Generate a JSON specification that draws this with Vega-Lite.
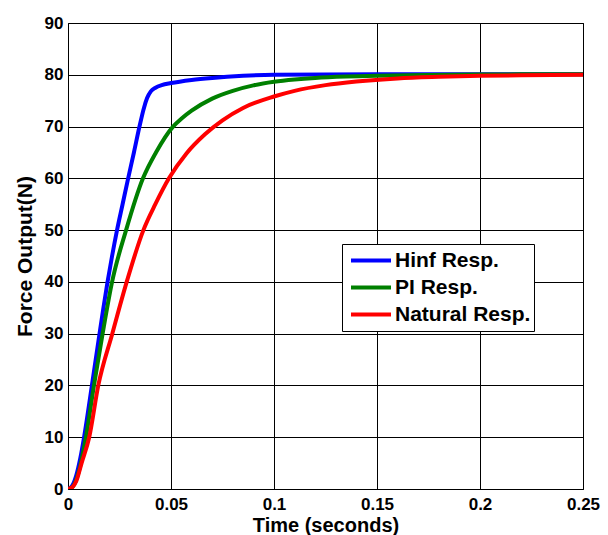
{
  "$schema": "https://vega.github.io/schema/vega-lite/v6.json",
  "width": 515,
  "height": 466,
  "autosize": {"type": "none"},
  "padding": {"left": 68, "top": 23, "right": 25, "bottom": 46},
  "background": "white",
  "config": {
    "view": {"stroke": "black", "strokeWidth": 1},
    "font": "Liberation Sans",
    "axis": {
      "gridColor": "black",
      "gridOpacity": 1,
      "gridWidth": 1,
      "domain": false,
      "ticks": false,
      "labelFont": "Liberation Sans",
      "labelFontWeight": "bold",
      "labelFontSize": 17,
      "labelColor": "black",
      "titleFont": "Liberation Sans",
      "titleFontWeight": "bold",
      "titleFontSize": 21,
      "titleColor": "black"
    }
  },
  "data": {
    "values": [
      {"t": 0, "f": 0, "s": "Hinf Resp."},
      {"t": 0.002, "f": 0.6, "s": "Hinf Resp."},
      {"t": 0.004, "f": 2.6, "s": "Hinf Resp."},
      {"t": 0.006, "f": 6, "s": "Hinf Resp."},
      {"t": 0.0078, "f": 10, "s": "Hinf Resp."},
      {"t": 0.0116, "f": 20, "s": "Hinf Resp."},
      {"t": 0.0153, "f": 30, "s": "Hinf Resp."},
      {"t": 0.0172, "f": 35, "s": "Hinf Resp."},
      {"t": 0.0192, "f": 40, "s": "Hinf Resp."},
      {"t": 0.0214, "f": 45, "s": "Hinf Resp."},
      {"t": 0.0238, "f": 50, "s": "Hinf Resp."},
      {"t": 0.0265, "f": 55, "s": "Hinf Resp."},
      {"t": 0.0292, "f": 60, "s": "Hinf Resp."},
      {"t": 0.032, "f": 65, "s": "Hinf Resp."},
      {"t": 0.0347, "f": 70, "s": "Hinf Resp."},
      {"t": 0.0368, "f": 73.5, "s": "Hinf Resp."},
      {"t": 0.0384, "f": 75.5, "s": "Hinf Resp."},
      {"t": 0.0402, "f": 76.8, "s": "Hinf Resp."},
      {"t": 0.0425, "f": 77.5, "s": "Hinf Resp."},
      {"t": 0.0455, "f": 78, "s": "Hinf Resp."},
      {"t": 0.05, "f": 78.4, "s": "Hinf Resp."},
      {"t": 0.06, "f": 79, "s": "Hinf Resp."},
      {"t": 0.07, "f": 79.4, "s": "Hinf Resp."},
      {"t": 0.085, "f": 79.8, "s": "Hinf Resp."},
      {"t": 0.1, "f": 80, "s": "Hinf Resp."},
      {"t": 0.15, "f": 80.1, "s": "Hinf Resp."},
      {"t": 0.2, "f": 80.1, "s": "Hinf Resp."},
      {"t": 0.25, "f": 80.1, "s": "Hinf Resp."},
      {"t": 0, "f": 0, "s": "PI Resp."},
      {"t": 0.002, "f": 0.3, "s": "PI Resp."},
      {"t": 0.004, "f": 1.8, "s": "PI Resp."},
      {"t": 0.006, "f": 4.6, "s": "PI Resp."},
      {"t": 0.0087, "f": 10, "s": "PI Resp."},
      {"t": 0.0126, "f": 20, "s": "PI Resp."},
      {"t": 0.0168, "f": 30, "s": "PI Resp."},
      {"t": 0.0214, "f": 40, "s": "PI Resp."},
      {"t": 0.0282, "f": 50, "s": "PI Resp."},
      {"t": 0.0364, "f": 60, "s": "PI Resp."},
      {"t": 0.0427, "f": 65, "s": "PI Resp."},
      {"t": 0.051, "f": 70, "s": "PI Resp."},
      {"t": 0.055, "f": 71.5, "s": "PI Resp."},
      {"t": 0.06, "f": 73.06, "s": "PI Resp."},
      {"t": 0.07, "f": 75.4, "s": "PI Resp."},
      {"t": 0.08, "f": 76.9, "s": "PI Resp."},
      {"t": 0.09, "f": 77.95, "s": "PI Resp."},
      {"t": 0.1, "f": 78.64, "s": "PI Resp."},
      {"t": 0.11, "f": 79.09, "s": "PI Resp."},
      {"t": 0.12, "f": 79.4, "s": "PI Resp."},
      {"t": 0.135, "f": 79.67, "s": "PI Resp."},
      {"t": 0.15, "f": 79.82, "s": "PI Resp."},
      {"t": 0.175, "f": 79.94, "s": "PI Resp."},
      {"t": 0.2, "f": 80.05, "s": "PI Resp."},
      {"t": 0.25, "f": 80.1, "s": "PI Resp."},
      {"t": 0, "f": 0, "s": "Natural Resp."},
      {"t": 0.002, "f": 0.3, "s": "Natural Resp."},
      {"t": 0.004, "f": 1.5, "s": "Natural Resp."},
      {"t": 0.0066, "f": 5, "s": "Natural Resp."},
      {"t": 0.0103, "f": 10, "s": "Natural Resp."},
      {"t": 0.0147, "f": 20, "s": "Natural Resp."},
      {"t": 0.0215, "f": 30, "s": "Natural Resp."},
      {"t": 0.0285, "f": 40, "s": "Natural Resp."},
      {"t": 0.0366, "f": 50, "s": "Natural Resp."},
      {"t": 0.0424, "f": 55, "s": "Natural Resp."},
      {"t": 0.049, "f": 60, "s": "Natural Resp."},
      {"t": 0.0575, "f": 64.8, "s": "Natural Resp."},
      {"t": 0.0665, "f": 68.5, "s": "Natural Resp."},
      {"t": 0.075, "f": 71.2, "s": "Natural Resp."},
      {"t": 0.085, "f": 73.6, "s": "Natural Resp."},
      {"t": 0.1, "f": 75.8, "s": "Natural Resp."},
      {"t": 0.11, "f": 76.9, "s": "Natural Resp."},
      {"t": 0.125, "f": 78, "s": "Natural Resp."},
      {"t": 0.14, "f": 78.7, "s": "Natural Resp."},
      {"t": 0.16, "f": 79.3, "s": "Natural Resp."},
      {"t": 0.18, "f": 79.6, "s": "Natural Resp."},
      {"t": 0.2, "f": 79.8, "s": "Natural Resp."},
      {"t": 0.22, "f": 79.9, "s": "Natural Resp."},
      {"t": 0.25, "f": 80, "s": "Natural Resp."}
    ]
  },
  "mark": {"type": "line", "strokeWidth": 4, "interpolate": "monotone", "clip": true},
  "encoding": {
    "x": {
      "field": "t",
      "type": "quantitative",
      "scale": {"domain": [0, 0.25], "nice": false, "zero": false},
      "axis": {"values": [0, 0.05, 0.1, 0.15, 0.2, 0.25], "format": "~g", "title": "Time (seconds)", "titleFontSize": 20, "labelPadding": 7, "titlePadding": 3, "labelFlush": false}
    },
    "y": {
      "field": "f",
      "type": "quantitative",
      "scale": {"domain": [0, 90], "nice": false},
      "axis": {"values": [0, 10, 20, 30, 40, 50, 60, 70, 80, 90], "title": "Force Output(N)", "labelPadding": 5, "titlePadding": 9, "labelFlush": false}
    },
    "color": {
      "field": "s",
      "type": "nominal",
      "sort": ["Hinf Resp.", "PI Resp.", "Natural Resp."],
      "scale": {"domain": ["Hinf Resp.", "PI Resp.", "Natural Resp."], "range": ["#0000FF", "#008000", "#FF0000"]},
      "legend": {
        "title": null,
        "orient": "none",
        "legendX": 274,
        "legendY": 221,
        "symbolType": "stroke",
        "symbolStrokeWidth": 4,
        "symbolSize": 1600,
        "symbolOffset": 4,
        "clipHeight": 27,
        "labelFont": "Liberation Sans",
        "labelFontWeight": "bold",
        "labelFontSize": 21,
        "labelColor": "black",
        "strokeColor": "black",
        "fillColor": "white",
        "padding": 3,
        "rowPadding": 0,
        "labelOffset": 2
      }
    }
  }
}
